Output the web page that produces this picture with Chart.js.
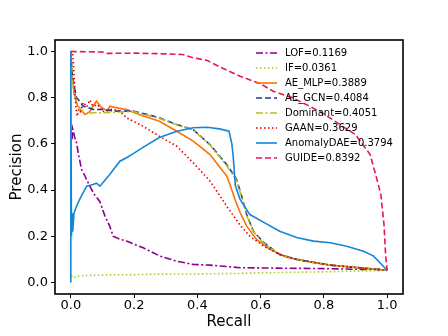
<!DOCTYPE html>
<html lang="en">
<head>
  <meta charset="UTF-8">
  <title>Precision-Recall curves</title>
  <script src="https://cdn.jsdelivr.net/npm/chart.js"></script>
  <style>
    body { margin: 0; background: #fff; }
    #prChart { display: block; }
  </style>
</head>
<body>
  <canvas id="prChart" width="448" height="336"></canvas>

  <script>
    // Curves (recall / precision pairs)
    const lofR = [0.004, 0.006, 0.012, 0.018, 0.025, 0.034, 0.045, 0.06, 0.075, 0.092, 0.108, 0.123, 0.134, 0.15, 0.176, 0.229, 0.282, 0.334, 0.387, 0.44, 0.535, 0.65, 0.8, 0.9, 1.0];
    const lofP = [0.62, 0.665, 0.63, 0.605, 0.55, 0.489, 0.46, 0.417, 0.38, 0.35, 0.287, 0.244, 0.2, 0.19, 0.179, 0.15, 0.114, 0.092, 0.078, 0.075, 0.064, 0.062, 0.06, 0.057, 0.055];

    const ifR = [0.002, 0.006, 0.015, 0.039, 0.08, 0.123, 0.2, 0.28, 0.4, 0.535, 0.6, 0.8, 1.0];
    const ifP = [0.03, 0.02, 0.024, 0.03, 0.031, 0.033, 0.034, 0.036, 0.037, 0.039, 0.042, 0.046, 0.052];

    const mlpR = [0, 0.004, 0.01, 0.02, 0.03, 0.045, 0.06, 0.07, 0.081, 0.095, 0.116, 0.123, 0.15, 0.176, 0.22, 0.28, 0.335, 0.387, 0.44, 0.493, 0.503, 0.519, 0.535, 0.556, 0.587, 0.63, 0.68, 0.714, 0.767, 0.82, 0.925, 1.0];
    const mlpP = [1.0, 0.9, 0.82, 0.77, 0.75, 0.727, 0.74, 0.763, 0.785, 0.76, 0.742, 0.763, 0.755, 0.749, 0.725, 0.698, 0.655, 0.612, 0.554, 0.46, 0.424, 0.359, 0.303, 0.244, 0.186, 0.143, 0.11, 0.1, 0.087, 0.075, 0.062, 0.053];

    const gcnR = [0, 0.003, 0.007, 0.012, 0.018, 0.025, 0.039, 0.05, 0.07, 0.1, 0.145, 0.197, 0.24, 0.28, 0.335, 0.387, 0.44, 0.493, 0.513, 0.524, 0.54, 0.556, 0.577, 0.61, 0.66, 0.714, 0.767, 0.82, 0.925, 1.0];
    const gcnP = [1.0, 0.92, 0.88, 0.84, 0.8, 0.79, 0.763, 0.76, 0.749, 0.749, 0.742, 0.742, 0.728, 0.713, 0.684, 0.662, 0.597, 0.51, 0.47, 0.446, 0.374, 0.294, 0.222, 0.173, 0.121, 0.1, 0.087, 0.075, 0.062, 0.053];

    const domR = gcnR;
    const domP = [1.0, 0.9, 0.86, 0.82, 0.78, 0.76, 0.74, 0.73, 0.735, 0.735, 0.738, 0.74, 0.725, 0.71, 0.683, 0.66, 0.595, 0.505, 0.465, 0.44, 0.37, 0.29, 0.22, 0.17, 0.12, 0.1, 0.086, 0.075, 0.062, 0.053];

    const gaanR = [0, 0.005, 0.008, 0.012, 0.016, 0.02, 0.025, 0.03, 0.04, 0.05, 0.06, 0.07, 0.085, 0.1, 0.13, 0.155, 0.176, 0.228, 0.28, 0.335, 0.387, 0.44, 0.493, 0.535, 0.566, 0.61, 0.66, 0.714, 0.767, 0.82, 0.925, 1.0];
    const gaanP = [1.0, 1.0, 0.95, 0.85, 0.76, 0.72, 0.75, 0.74, 0.78, 0.76, 0.79, 0.763, 0.77, 0.74, 0.75, 0.742, 0.713, 0.677, 0.633, 0.59, 0.518, 0.439, 0.33, 0.248, 0.2, 0.157, 0.121, 0.1, 0.087, 0.075, 0.062, 0.053];

    const daeR = [0, 0, 0.002, 0.004, 0.006, 0.01, 0.018, 0.028, 0.05, 0.07, 0.081, 0.092, 0.123, 0.155, 0.176, 0.2, 0.228, 0.28, 0.335, 0.387, 0.43, 0.47, 0.5, 0.509, 0.513, 0.52, 0.535, 0.566, 0.61, 0.66, 0.714, 0.767, 0.82, 0.872, 0.925, 0.956, 1.0];
    const daeP = [0.0, 1.0, 0.2, 0.3, 0.22, 0.3, 0.33, 0.36, 0.417, 0.424, 0.43, 0.417, 0.468, 0.525, 0.54, 0.56, 0.585, 0.628, 0.655, 0.67, 0.672, 0.665, 0.655, 0.6, 0.55, 0.42, 0.36, 0.294, 0.26, 0.222, 0.195, 0.179, 0.172, 0.157, 0.135, 0.115, 0.053];

    const guideR = [0, 0.003, 0.1, 0.11, 0.2, 0.3, 0.354, 0.39, 0.43, 0.47, 0.535, 0.6, 0.64, 0.7, 0.745, 0.8, 0.85, 0.9, 0.946, 0.967, 0.98, 0.99, 0.995, 1.0];
    const guideP = [1.0, 1.0, 0.998, 0.992, 0.993, 0.99, 0.987, 0.972, 0.962, 0.934, 0.893, 0.86, 0.828, 0.8, 0.77, 0.73, 0.684, 0.64, 0.554, 0.45, 0.38, 0.25, 0.12, 0.053];

    const labels = ['LOF=0.1169', 'IF=0.0361', 'AE_MLP=0.3889', 'AE_GCN=0.4084', 'Dominant=0.4051', 'GAAN=0.3629', 'AnomalyDAE=0.3794', 'GUIDE=0.8392'];
    const yTicks = [0, 0.2, 0.4, 0.6, 0.8, 1.0];
    const xTicks = [0, 0.2, 0.4, 0.6, 0.8, 1.0];

    const curves = [
      { r: lofR, p: lofP, color: '#8b008b', dash: [7, 2.5, 2, 2.5] },
      { r: ifR, p: ifP, color: '#9acd32', dash: [1.5, 2.5] },
      { r: mlpR, p: mlpP, color: '#f97306', dash: [] },
      { r: gcnR, p: gcnP, color: '#1f3a93', dash: [6, 3] },
      { r: domR, p: domP, color: '#bcbd22', dash: [7, 2.5, 2, 2.5] },
      { r: gaanR, p: gaanP, color: '#e50000', dash: [1.5, 2.5] },
      { r: daeR, p: daeP, color: '#1586d6', dash: [] },
      { r: guideR, p: guideP, color: '#e8174e', dash: [6, 3] }
    ];

    const datasets = curves.map((c, i) => ({
      label: labels[i],
      data: c.r.map((x, k) => ({ x: x, y: c.p[k] })),
      borderColor: c.color,
      borderDash: c.dash,
      borderWidth: 1.6,
      pointRadius: 0,
      tension: 0,
      fill: false,
      order: curves.length - i   // later curves on top, like matplotlib
    }));

    // frame + legend drawn inside the axes, matplotlib style
    const framePlugin = {
      id: 'frame',
      afterDraw(chart) {
        const { ctx, chartArea: a } = chart;
        ctx.save();
        ctx.strokeStyle = '#000';
        ctx.lineWidth = 1.6;
        ctx.setLineDash([]);
        ctx.strokeRect(a.left, a.top, a.right - a.left, a.bottom - a.top);

        ctx.font = '10px "DejaVu Sans"';
        ctx.textBaseline = 'middle';
        ctx.fillStyle = '#000';
        curves.forEach((c, i) => {
          const y = 53 + i * 15.0;
          ctx.strokeStyle = c.color;
          ctx.lineWidth = 1.6;
          ctx.setLineDash(c.dash);
          ctx.beginPath();
          ctx.moveTo(256, y);
          ctx.lineTo(277, y);
          ctx.stroke();
          ctx.fillText(labels[i], 285, y);
        });
        ctx.restore();
      }
    };

    const tickOpts = {
      color: '#000',
      font: { family: 'DejaVu Sans', size: 13 },
      callback: v => v.toFixed(1)
    };

    new Chart(document.getElementById('prChart'), {
      type: 'line',
      data: { datasets: datasets },
      options: {
        responsive: false,
        animation: false,
        layout: { padding: { top: 40, right: 45, bottom: 0, left: 0 } },
        plugins: { legend: { display: false }, tooltip: { enabled: false } },
        scales: {
          x: {
            type: 'linear',
            min: -0.05,
            max: 1.05,
            afterBuildTicks: s => { s.ticks = xTicks.map(v => ({ value: v })); },
            afterFit: s => { s.height = 42; },
            grid: { display: true, drawOnChartArea: false, tickLength: 4, color: '#000' },
            border: { display: false },
            ticks: Object.assign({ padding: 0, maxRotation: 0 }, tickOpts),
            title: {
              display: true,
              text: 'Recall',
              color: '#000',
              font: { family: 'DejaVu Sans', size: 15 },
              padding: { top: 0, bottom: 5 }
            }
          },
          y: {
            type: 'linear',
            min: -0.05,
            max: 1.05,
            afterBuildTicks: s => { s.ticks = yTicks.map(v => ({ value: v })); },
            afterFit: s => { s.width = 55; },
            grid: { display: true, drawOnChartArea: false, tickLength: 4, color: '#000' },
            border: { display: false },
            ticks: Object.assign({ padding: 3 }, tickOpts),
            title: {
              display: true,
              text: 'Precision',
              color: '#000',
              font: { family: 'DejaVu Sans', size: 15 },
              padding: { top: 8, bottom: 0 }
            }
          }
        }
      },
      plugins: [framePlugin]
    });
  </script>
</body>
</html>
